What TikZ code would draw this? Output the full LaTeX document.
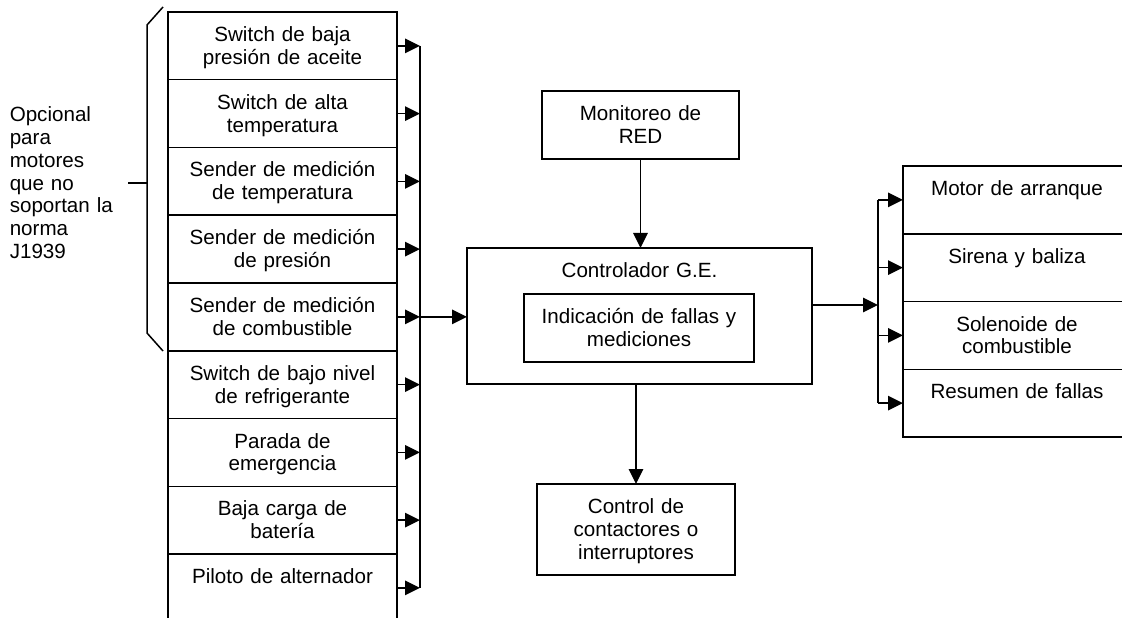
\documentclass[tikz,border=0pt]{standalone}
\usepackage{fontspec}
\setmainfont{Liberation Sans}
\usetikzlibrary{arrows.meta}

\begin{document}
\begin{tikzpicture}[x=1bp, y=-1bp, line width=1.5bp,
  every node/.style={font=\fontsize{20.6bp}{22.8bp}\selectfont},
  blk/.style={draw, anchor=north west, align=center, inner sep=0pt, outer sep=0pt, text height=29.5bp},
  inbox/.style={blk, text width=229bp, text depth=38.25bp},
  outbox/.style={blk, text width=228bp, text depth=38.25bp},
  note/.style={anchor=base west, align=left, text width=118bp, inner sep=0pt},
  arr/.style={-{Triangle[length=15bp, width=14.5bp]}}]
\useasboundingbox (0,0) rectangle (1122,618);
\clip (0,0) rectangle (1122,618);
%optional group
\draw (163,7) -- (147,25) -- (147,333) -- (163,351);
\draw (128,183) -- (147,183);
\node[note] (opt) at (9,121.7) {Opcional\\para\\motores\\que no\\soportan la\\norma\\J1939};
%the inputs
\node[inbox] (s1) at (168,12) {Switch de baja\\presión de aceite};
\node[inbox] (s2) at (168,79.75) {Switch de alta\\temperatura};
\node[inbox] (s3) at (168,147.5) {Sender de medición\\de temperatura};
\node[inbox] (s4) at (168,215.25) {Sender de medición\\de presión};
\node[inbox] (s5) at (168,283) {Sender de medición\\de combustible};
\node[inbox] (s6) at (168,350.75) {Switch de bajo nivel\\de refrigerante};
\node[inbox] (s7) at (168,418.5) {Parada de\\emergencia};
\node[inbox] (s8) at (168,486.25) {Baja carga de\\batería};
\node[inbox] (s9) at (168,554) {Piloto de alternador};
\coordinate (lbus) at (420,0);
\draw[arr] (s1.east) -- (s1.east -| lbus);
\draw[arr] (s2.east) -- (s2.east -| lbus);
\draw[arr] (s3.east) -- (s3.east -| lbus);
\draw[arr] (s4.east) -- (s4.east -| lbus);
\draw[arr] (s5.east) -- (s5.east -| lbus);
\draw[arr] (s6.east) -- (s6.east -| lbus);
\draw[arr] (s7.east) -- (s7.east -| lbus);
\draw[arr] (s8.east) -- (s8.east -| lbus);
\draw[arr] (s9.east) -- (s9.east -| lbus);
\draw (s1.east -| lbus) -- (s9.east -| lbus);
%the controller
\node[blk, text width=197bp, text depth=38.5bp] (mon) at (542,91) {Monitoreo de\\RED};
\node[blk, text width=345bp, text depth=106.5bp] (ctrl) at (467,248) {Controlador G.E.};
\node[blk, text width=230bp, text depth=38.5bp] (ind) at (524,294) {Indicación de fallas y\\mediciones};
\node[blk, text width=198bp, text depth=61.5bp] (cont) at (537,484) {Control de\\contactores o\\interruptores};
\draw[arr] (s5.east -| lbus) -- (s5.east -| ctrl.west);
\draw[arr] (mon.south) -- (mon.south |- ctrl.north);
\draw[arr] (cont.north |- ctrl.south) -- (cont.north);
%the outputs
\coordinate (rbus) at (878,305);
\draw[arr] (rbus -| ctrl.east) -- (rbus);
\node[outbox] (m1) at (903,166) {Motor de arranque};
\node[outbox] (m2) at (903,233.75) {Sirena y baliza};
\node[outbox] (m3) at (903,301.5) {Solenoide de\\combustible};
\node[outbox] (m4) at (903,369.25) {Resumen de fallas};
\draw (rbus |- m1.west) -- (rbus |- m4.west);
\draw[arr] (rbus |- m1.west) -- (m1.west);
\draw[arr] (rbus |- m2.west) -- (m2.west);
\draw[arr] (rbus |- m3.west) -- (m3.west);
\draw[arr] (rbus |- m4.west) -- (m4.west);
\end{tikzpicture}
\end{document}
